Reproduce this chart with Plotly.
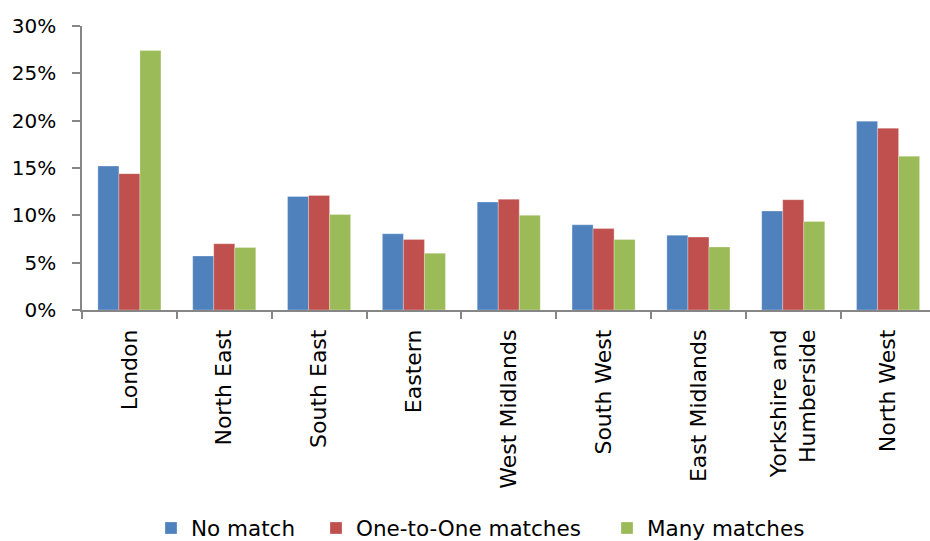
import plotly.graph_objects as go

regions = ["London", "North East", "South East", "Eastern", "West Midlands",
           "South West", "East Midlands", "Yorkshire and<br>Humberside", "North West"]
no_match = [15.2, 5.7, 12.0, 8.05, 11.4, 9.0, 7.9, 10.45, 19.95]
one_to_one = [14.4, 7.0, 12.1, 7.45, 11.7, 8.6, 7.7, 11.65, 19.2]
many_matches = [27.4, 6.6, 10.1, 6.0, 10.0, 7.45, 6.65, 9.35, 16.25]
y_ticks = [0, 5, 10, 15, 20, 25, 30]

series = [
    ("No match", no_match, "#4F81BD"),
    ("One-to-One matches", one_to_one, "#C0504D"),
    ("Many matches", many_matches, "#9BBB59"),
]
legend_ids = ["legend", "legend2", "legend3"]
legend_left = [151, 316, 607]  # px from the left edge of the page

W, H = 930, 541

fig = go.Figure()
for (name, vals, color), lid in zip(series, legend_ids):
    fig.add_trace(go.Bar(
        x=regions, y=vals, name=name, legend=lid,
        marker=dict(color=color, line=dict(color="rgba(255,255,255,0.45)", width=0.6)),
    ))

axis_grey = "#868686"
legend_style = dict(
    orientation="h", xref="container", yref="container",
    xanchor="left", yanchor="middle", y=(H - 528) / H,
    font=dict(family="DejaVu Sans", size=21.5, color="black"),
    bgcolor="rgba(0,0,0,0)", borderwidth=0,
)

layout_legends = {}
for lid, left in zip(legend_ids, legend_left):
    layout_legends[lid] = dict(legend_style, x=left / W)

fig.update_layout(
    width=W, height=H,
    margin=dict(l=82, r=0, t=26, b=231),
    plot_bgcolor="white", paper_bgcolor="white",
    barmode="group", bargap=0.335, bargroupgap=0,
    font=dict(family="DejaVu Sans", size=20, color="black"),
    showlegend=True,
    xaxis=dict(
        type="category", range=[-0.5, 8.442],
        showline=True, linecolor=axis_grey, linewidth=1.5,
        ticks="outside", tickson="boundaries", ticklen=7, tickcolor=axis_grey, tickwidth=1.5,
        tickangle=-90, tickfont=dict(family="DejaVu Sans", size=22, color="black"),
        showgrid=False, ticklabelstandoff=9,
    ),
    yaxis=dict(
        range=[0, 30], tickmode="array", tickvals=y_ticks,
        ticktext=[f"{v}%" for v in y_ticks],
        showline=True, linecolor=axis_grey, linewidth=1.5,
        ticks="outside", ticklen=8, tickcolor=axis_grey, tickwidth=1.5,
        showgrid=False, zeroline=False, ticklabelstandoff=12,
        tickfont=dict(family="DejaVu Sans", size=20, color="black"),
    ),
    **layout_legends,
)

fig.write_html("out.html")
